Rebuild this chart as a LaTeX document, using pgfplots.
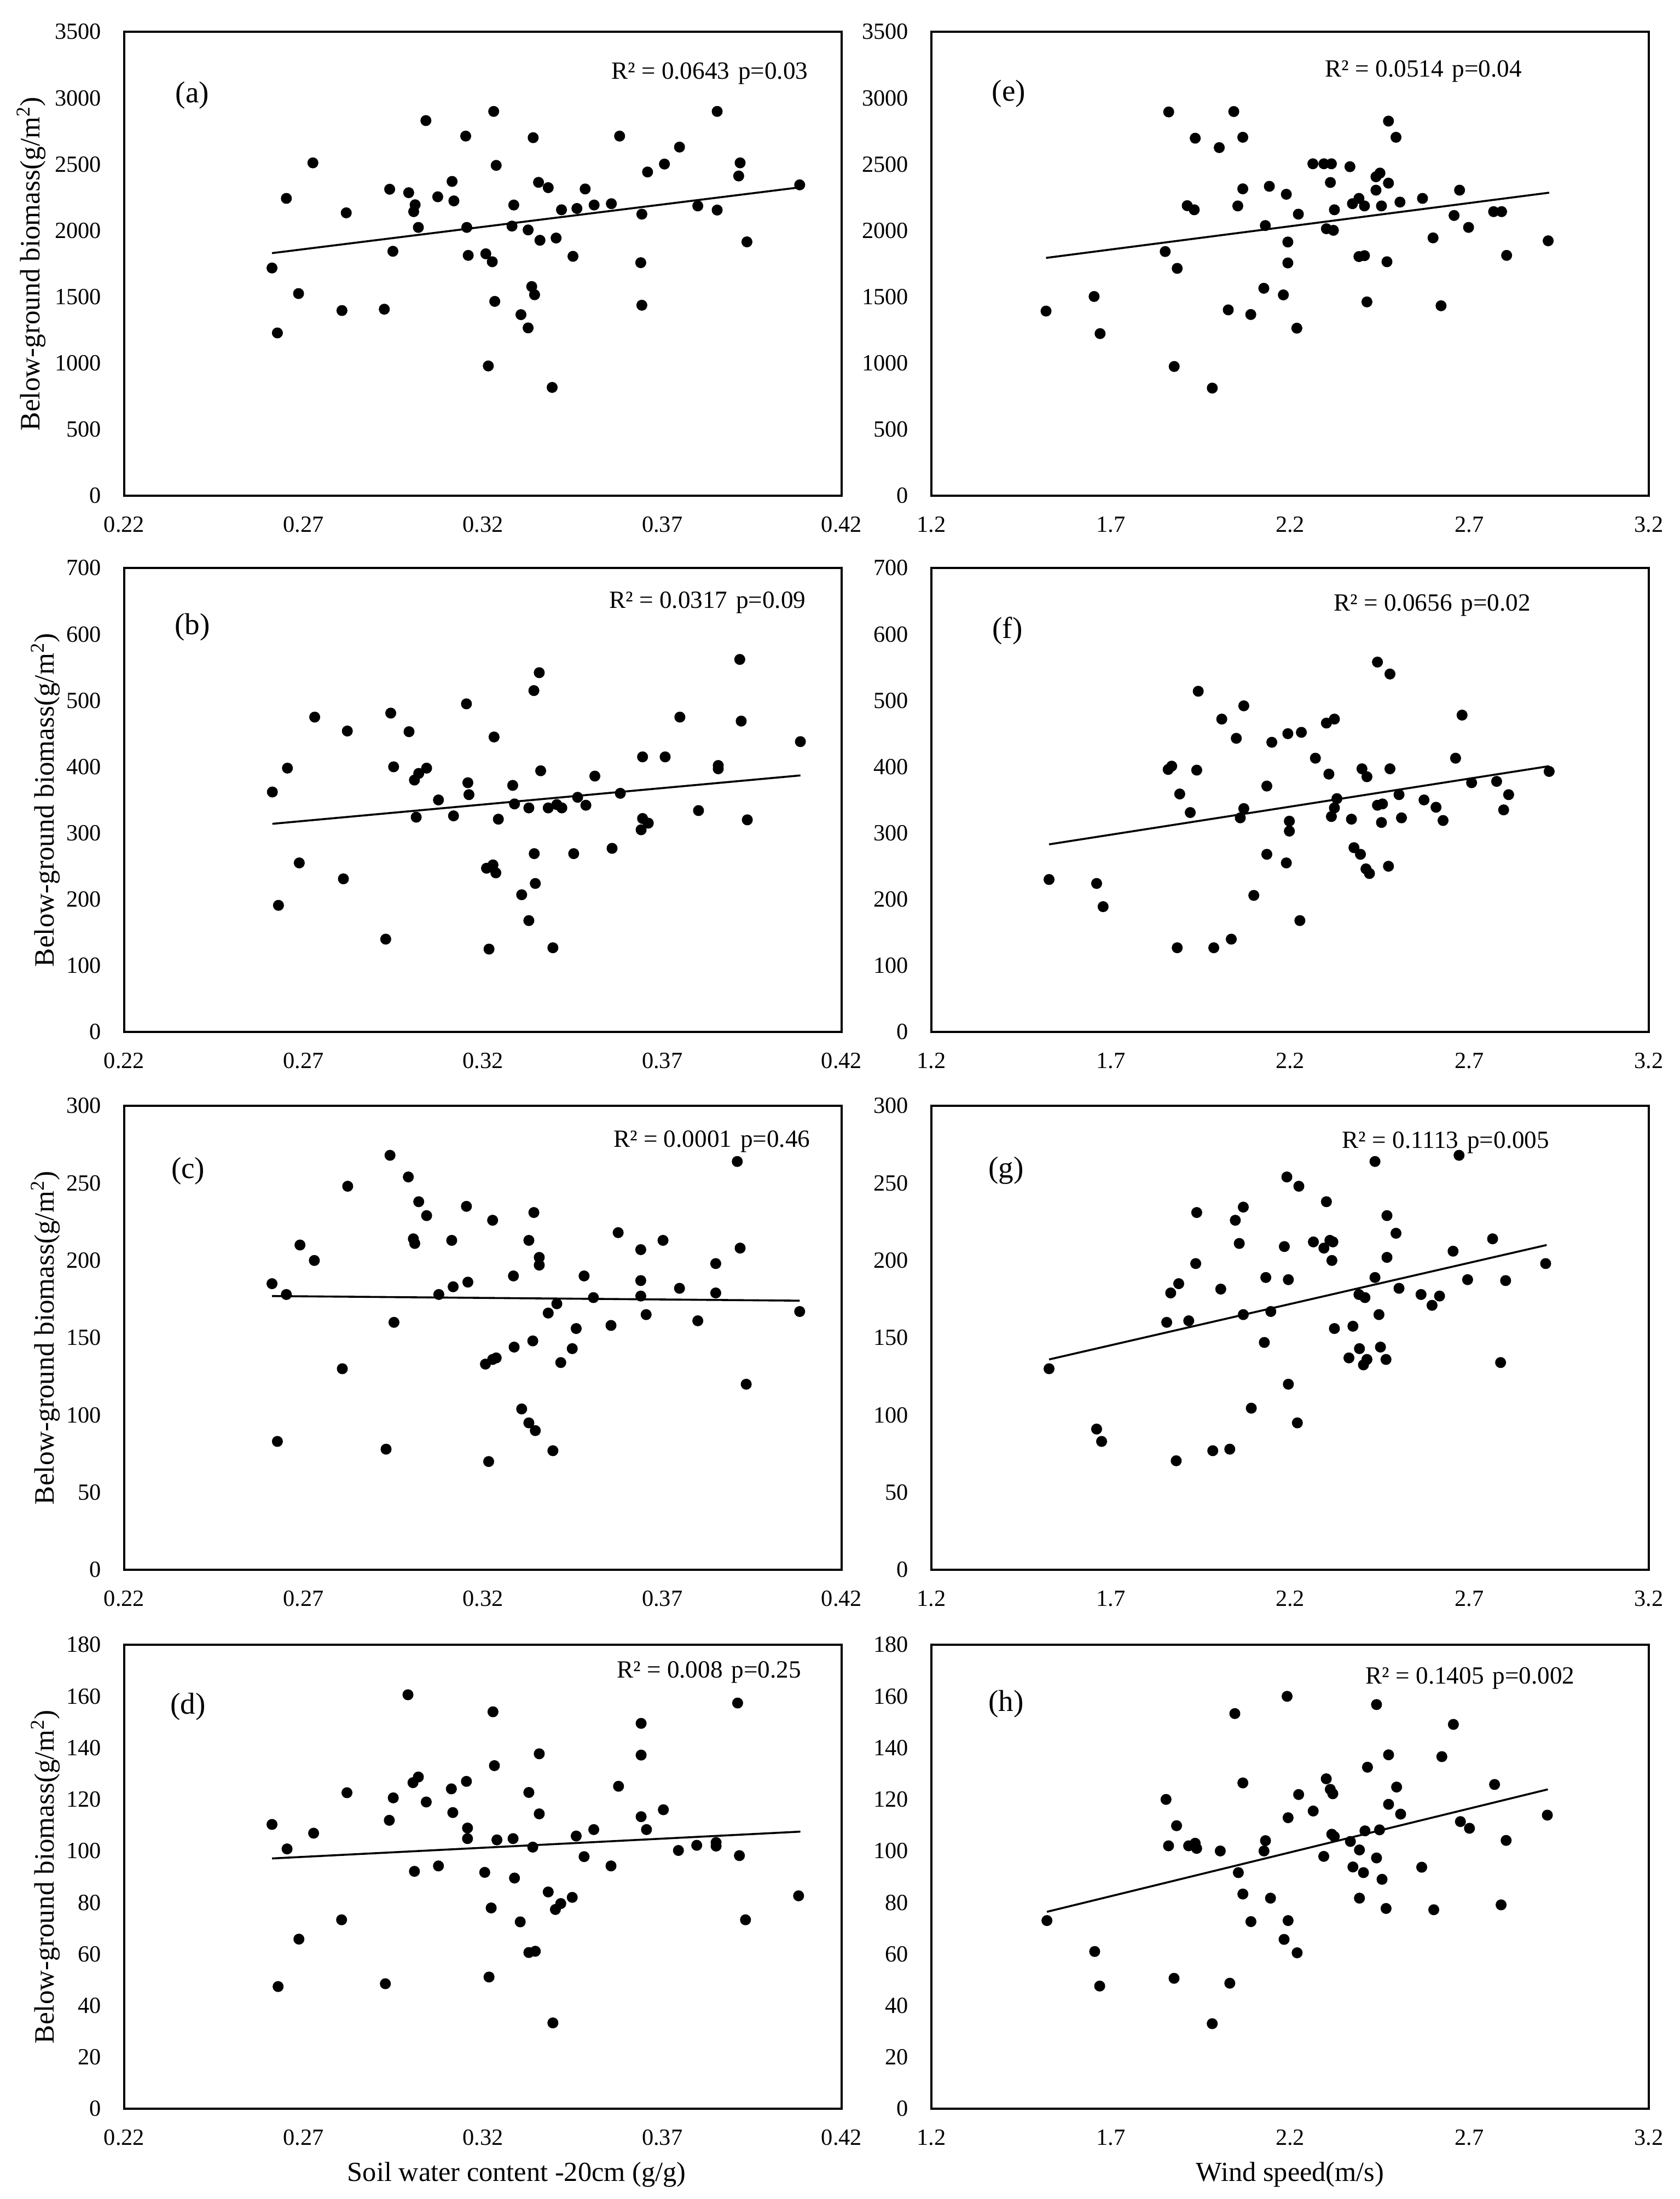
\documentclass[border=0pt]{standalone}
\usepackage{fontspec}
\setmainfont{Liberation Serif}
\usepackage{pgfplots}
\pgfplotsset{compat=1.18}

\newcommand{\lab}{\fontsize{11.3}{13}\selectfont}
\newcommand{\pan}{\fontsize{13.8}{16}\selectfont}
\newcommand{\ylab}{\fontsize{12.8}{15}\selectfont}
\newcommand{\xlab}{\fontsize{12.6}{15}\selectfont}

\pgfplotsset{
  panel/.style={
    scale only axis, width=327.75pt, height=212pt,
    axis line style={line width=1.1pt},
    major tick length=0pt,
    clip=false,
    ticklabel style={font=\fontsize{10.6}{12}\selectfont},
    /pgf/number format/assume math mode=true,
    /pgf/number format/1000 sep={},
    xticklabel style={yshift=-6pt},
    yticklabel style={xshift=-7pt},
  },
  xlabpos/.style={every axis x label/.style={at={(axis description cs:#1,-0.1415)},anchor=center,font=\xlab}},
  ylabpos/.style={every axis y label/.style={at={(axis description cs:#1,0.5)},rotate=90,anchor=center,font=\ylab}},
  dots/.style={only marks, mark=*, mark size=2.3pt, black},
  trend/.style={no marks, black, line width=0.9pt},
  leftcol/.style={panel, xmin=0.22, xmax=0.42,
    xtick={0.22,0.27,0.32,0.37,0.42}, xticklabels={0.22,0.27,0.32,0.37,0.42},
    ylabel={Below-ground biomass(g/m\textsuperscript{2})}},
  rightcol/.style={panel, xmin=1.2, xmax=3.2,
    xtick={1.2,1.7,2.2,2.7,3.2}, xticklabels={1.2,1.7,2.2,2.7,3.2}},
  ya/.style={ymin=0, ymax=3500, ytick={0,500,...,3500}},
  yb/.style={ymin=0, ymax=700, ytick={0,100,...,700}},
  yc/.style={ymin=0, ymax=300, ytick={0,50,...,300}},
  yd/.style={ymin=0, ymax=180, ytick={0,20,...,180}},
}

\begin{document}
\begin{tikzpicture}
\useasboundingbox (0,0) rectangle (767.5pt,-1004.75pt);

% (a)
\begin{axis}[leftcol, ya, at={(56.75pt,-14.5pt)}, anchor=north west, ylabpos=-0.1297]
\addplot[dots] coordinates {
(0.2612,1718)(0.2627,1228)(0.2652,2243)(0.2686,1525)(0.2726,2511)(0.2807,1397)(0.2819,2134)(0.2925,1407)(0.2940,2312)(0.2949,1844)(0.2993,2286)(0.3011,2195)(0.3007,2143)(0.3020,2024)(0.3041,2830)(0.3074,2255)(0.3114,2371)(0.3119,2224)(0.3152,2713)(0.3155,2024)(0.3159,1813)(0.3208,1825)(0.3215,979)(0.3226,1765)(0.3230,2899)(0.3237,2492)(0.3233,1466)(0.3281,2034)(0.3286,2193)(0.3306,1366)(0.3326,2005)(0.3326,1266)(0.3336,1578)(0.3344,1516)(0.3340,2701)(0.3355,2364)(0.3359,1927)(0.3382,2324)(0.3393,817)(0.3404,1944)(0.3419,2157)(0.3451,1806)(0.3462,2167)(0.3485,2314)(0.3510,2193)(0.3558,2203)(0.3581,2713)(0.3640,1758)(0.3643,2124)(0.3643,1437)(0.3659,2442)(0.3706,2502)(0.3748,2630)(0.3799,2186)(0.3853,2899)(0.3853,2155)(0.3913,2412)(0.3917,2511)(0.3936,1915)(0.4083,2345)
};
\addplot[trend] coordinates {(0.2612,1830)(0.4083,2326)};
\node[font=\pan] at (axis description cs:0.095,0.863) {(a)};
\node[font=\lab] at (axis description cs:0.816,0.910) {R² = 0.0643\hspace{0.35em}p=0.03};
\end{axis}

% (b)
\begin{axis}[leftcol, yb, at={(56.75pt,-259.5pt)}, anchor=north west, ylabpos=-0.1098]
\addplot[dots] coordinates {
(0.2613,362)(0.2630,191)(0.2655,398)(0.2688,255)(0.2731,475)(0.2811,231)(0.2822,454)(0.2929,140)(0.2943,481)(0.2951,400)(0.2994,453)(0.3009,380)(0.3021,390)(0.3014,324)(0.3043,398)(0.3076,350)(0.3118,326)(0.3154,495)(0.3158,376)(0.3161,358)(0.3210,247)(0.3217,125)(0.3228,252)(0.3231,445)(0.3236,240)(0.3243,321)(0.3283,372)(0.3288,344)(0.3308,207)(0.3328,338)(0.3328,168)(0.3342,515)(0.3343,269)(0.3346,224)(0.3357,542)(0.3361,394)(0.3382,338)(0.3395,127)(0.3406,343)(0.3420,338)(0.3453,269)(0.3464,354)(0.3487,342)(0.3512,386)(0.3560,277)(0.3583,360)(0.3641,305)(0.3645,322)(0.3645,415)(0.3661,315)(0.3708,415)(0.3749,475)(0.3801,334)(0.3856,402)(0.3856,397)(0.3916,562)(0.3920,469)(0.3937,320)(0.4085,438)
};
\addplot[trend] coordinates {(0.2613,314)(0.4085,387)};
\node[font=\pan] at (axis description cs:0.095,0.873) {(b)};
\node[font=\lab] at (axis description cs:0.813,0.926) {R² = 0.0317\hspace{0.35em}p=0.09};
\end{axis}

% (c)
\begin{axis}[leftcol, yc, at={(56.75pt,-505.25pt)}, anchor=north west, ylabpos=-0.1098]
\addplot[dots] coordinates {
(0.2612,185)(0.2627,83)(0.2652,178)(0.2690,210)(0.2730,200)(0.2808,130)(0.2823,248)(0.2930,78)(0.2941,268)(0.2952,160)(0.2992,254)(0.3006,214)(0.3010,211)(0.3021,238)(0.3043,229)(0.3077,178)(0.3113,213)(0.3117,183)(0.3154,235)(0.3158,186)(0.3207,133)(0.3216,70)(0.3227,226)(0.3227,136)(0.3237,137)(0.3285,190)(0.3287,144)(0.3308,104)(0.3328,213)(0.3328,95)(0.3339,148)(0.3342,231)(0.3346,90)(0.3357,202)(0.3357,197)(0.3382,166)(0.3395,77)(0.3406,172)(0.3417,134)(0.3449,143)(0.3460,156)(0.3482,190)(0.3508,176)(0.3557,158)(0.3577,218)(0.3640,207)(0.3640,187)(0.3640,177)(0.3655,165)(0.3702,213)(0.3748,182)(0.3799,161)(0.3849,198)(0.3849,179)(0.3909,264)(0.3917,208)(0.3934,120)(0.4083,167)
};
\addplot[trend] coordinates {(0.2612,177)(0.4083,174)};
\node[font=\pan] at (axis description cs:0.089,0.860) {(c)};
\node[font=\lab] at (axis description cs:0.819,0.923) {R² = 0.0001\hspace{0.35em}p=0.46};
\end{axis}

% (d)
\begin{axis}[leftcol, yd, at={(56.75pt,-751.5pt)}, anchor=north west, ylabpos=-0.1098,
  xlabpos=0.547, xlabel={Soil water content -20cm (g/g)}]
\addplot[dots] coordinates {
(0.2612,110.3)(0.2629,47.4)(0.2654,100.8)(0.2687,65.8)(0.2728,106.9)(0.2806,73.3)(0.2821,122.6)(0.2928,48.5)(0.2939,111.9)(0.2950,120.6)(0.2991,160.6)(0.3005,126.5)(0.3020,128.7)(0.3009,92.1)(0.3042,119)(0.3076,94.2)(0.3112,124.1)(0.3116,114.9)(0.3154,127)(0.3157,108.9)(0.3157,104.8)(0.3205,91.7)(0.3217,51.1)(0.3223,77.9)(0.3228,154)(0.3232,133.1)(0.3239,104.3)(0.3284,104.8)(0.3288,89.5)(0.3304,72.5)(0.3328,122.7)(0.3328,60.6)(0.3339,101.5)(0.3346,61.1)(0.3357,137.7)(0.3357,114.4)(0.3382,84.1)(0.3395,33.3)(0.3402,77.3)(0.3417,79.6)(0.3449,82)(0.3460,105.8)(0.3482,97.8)(0.3509,108.3)(0.3557,94.2)(0.3578,125.1)(0.3641,149.5)(0.3641,137.2)(0.3641,113.3)(0.3656,108.3)(0.3703,116)(0.3745,100.2)(0.3796,102.2)(0.3850,103.3)(0.3850,101.9)(0.3910,157.4)(0.3915,98.2)(0.3932,73.3)(0.4080,82.6)
};
\addplot[trend] coordinates {(0.2612,97.1)(0.4085,107.5)};
\node[font=\pan] at (axis description cs:0.089,0.867) {(d)};
\node[font=\lab] at (axis description cs:0.815,0.941) {R² = 0.008\hspace{0.35em}p=0.25};
\end{axis}

% (e)
\begin{axis}[rightcol, ya, at={(425.5pt,-14.5pt)}, anchor=north west]
\addplot[dots] coordinates {
(1.5196,1393)(1.6536,1503)(1.6703,1223)(1.8518,1842)(1.8616,2895)(1.8769,975)(1.8853,1715)(1.9132,2188)(1.9327,2157)(1.9355,2697)(1.9830,812)(2.0025,2626)(2.0276,1402)(2.0430,2898)(2.0542,2186)(2.0681,2704)(2.0681,2315)(2.0904,1367)(2.1267,1565)(2.1309,2038)(2.1421,2334)(2.1812,1515)(2.1895,2274)(2.1937,1914)(2.1937,1756)(2.2188,1264)(2.2230,2124)(2.2635,2504)(2.2942,2504)(2.3151,2504)(2.3123,2363)(2.3012,2014)(2.3207,2002)(2.3235,2157)(2.3668,2482)(2.3738,2203)(2.3919,2243)(2.3919,1804)(2.4073,1811)(2.4073,2186)(2.4142,1462)(2.4394,2406)(2.4505,2434)(2.4394,2305)(2.4547,2186)(2.4742,2826)(2.4742,2358)(2.4700,1765)(2.4952,2704)(2.5063,2215)(2.5691,2243)(2.5985,1945)(2.6208,1433)(2.6571,2114)(2.6724,2305)(2.6975,2024)(2.7673,2143)(2.7896,2143)(2.8036,1813)(2.9194,1923)
};
\addplot[trend] coordinates {(1.5196,1794)(2.9222,2286)};
\node[font=\pan] at (axis description cs:0.108,0.866) {(e)};
\node[font=\lab] at (axis description cs:0.686,0.915) {R² = 0.0514\hspace{0.35em}p=0.04};
\end{axis}

% (f)
\begin{axis}[rightcol, yb, at={(425.5pt,-259.5pt)}, anchor=north west]
\addplot[dots] coordinates {
(1.528,230)(1.6606,224)(1.6787,189)(1.8601,396)(1.8699,401)(1.8853,127)(1.8923,359)(1.9216,331)(1.9397,395)(1.9439,514)(1.9872,127)(2.0095,472)(2.0360,140)(2.0500,443)(2.0611,323)(2.0709,337)(2.0709,492)(2.0988,206)(2.1351,371)(2.1351,268)(2.1490,437)(2.1895,255)(2.1937,450)(2.1979,318)(2.1979,303)(2.2272,168)(2.2314,452)(2.2705,413)(2.3012,466)(2.3235,472)(2.3081,389)(2.3151,325)(2.3235,338)(2.3305,352)(2.3710,321)(2.3780,278)(2.3961,268)(2.4003,397)(2.4115,246)(2.4212,239)(2.4142,385)(2.4435,558)(2.4435,342)(2.4575,344)(2.4547,316)(2.4742,250)(2.4784,540)(2.4784,397)(2.5036,358)(2.5105,323)(2.5733,350)(2.6068,339)(2.6264,319)(2.6613,413)(2.6794,478)(2.7060,376)(2.7757,378)(2.7953,335)(2.8092,358)(2.9222,393)
};
\addplot[trend] coordinates {(1.528,283)(2.9222,401)};
\node[font=\pan] at (axis description cs:0.106,0.864) {(f)};
\node[font=\lab] at (axis description cs:0.698,0.919) {R² = 0.0656\hspace{0.35em}p=0.02};
\end{axis}

% (g)
\begin{axis}[rightcol, yc, at={(425.5pt,-505.25pt)}, anchor=north west]
\addplot[dots] coordinates {
(1.528,130)(1.6606,91)(1.6745,83)(1.8560,160)(1.8671,179)(1.8825,70.5)(1.8895,185)(1.9174,161)(1.9369,198)(1.9397,231)(1.9844,77)(2.0067,181.5)(2.0318,78)(2.0472,226)(2.0583,211)(2.0695,234.5)(2.0695,165)(2.0918,104.5)(2.1281,147)(2.1323,189)(2.1462,167)(2.1839,209)(2.1909,254)(2.1951,187.6)(2.1951,120)(2.2202,95)(2.2244,248)(2.2649,212)(2.2942,208)(2.3012,238)(2.3109,213)(2.3193,212)(2.3165,200)(2.3235,156)(2.3640,137)(2.3751,157.5)(2.3919,178)(2.3933,143)(2.4045,132.5)(2.4087,176)(2.4142,136)(2.4366,264)(2.4366,189)(2.4477,165)(2.4519,144)(2.4673,136)(2.4700,229)(2.4700,202)(2.4952,217.6)(2.5036,182)(2.5650,178)(2.5957,171)(2.6166,177)(2.6543,206)(2.6710,268)(2.6948,187.6)(2.7645,214)(2.7868,134)(2.8008,187)(2.9124,198)
};
\addplot[trend] coordinates {(1.528,136)(2.9152,210)};
\node[font=\pan] at (axis description cs:0.104,0.861) {(g)};
\node[font=\lab] at (axis description cs:0.717,0.921) {R² = 0.1113\hspace{0.35em}p=0.005};
\end{axis}

% (h)
\begin{axis}[rightcol, yd, at={(425.5pt,-751.5pt)}, anchor=north west,
  xlabpos=0.5, xlabel={Wind speed(m/s)}]
\addplot[dots] coordinates {
(1.5221,73)(1.6552,61)(1.6692,47.6)(1.8541,120)(1.8611,102)(1.8765,50.6)(1.8835,109.8)(1.9171,102)(1.9353,103)(1.9395,101)(1.9829,33)(2.0053,100)(2.0319,48.7)(2.0459,153.3)(2.0557,91.6)(2.0683,126.4)(2.0683,83.3)(2.0908,72.6)(2.1272,100)(2.1314,104)(2.1454,81.7)(2.1832,65.7)(2.1916,160)(2.1944,112.9)(2.1944,73)(2.2196,60.5)(2.2238,121.9)(2.2644,115.5)(2.2938,97.9)(2.3008,128)(2.3120,123.9)(2.3190,122.2)(2.3162,106.5)(2.3232,105.6)(2.3681,103.7)(2.3751,93.8)(2.3933,100.4)(2.3933,81.7)(2.4045,91.6)(2.4087,107.8)(2.4157,132.5)(2.4409,156.8)(2.4409,97.3)(2.4493,108.2)(2.4563,89)(2.4675,77.7)(2.4745,137.3)(2.4745,118.1)(2.4969,124.8)(2.5081,114.3)(2.5669,93.7)(2.6005,77.2)(2.6230,136.6)(2.6552,149.1)(2.6748,111.4)(2.7000,108.8)(2.7700,125.8)(2.7882,79.1)(2.8022,104.1)(2.9171,113.9)
};
\addplot[trend] coordinates {(1.5221,76.4)(2.9185,123.9)};
\node[font=\pan] at (axis description cs:0.104,0.873) {(h)};
\node[font=\lab] at (axis description cs:0.751,0.928) {R² = 0.1405\hspace{0.35em}p=0.002};
\end{axis}
\end{tikzpicture}
\end{document}
